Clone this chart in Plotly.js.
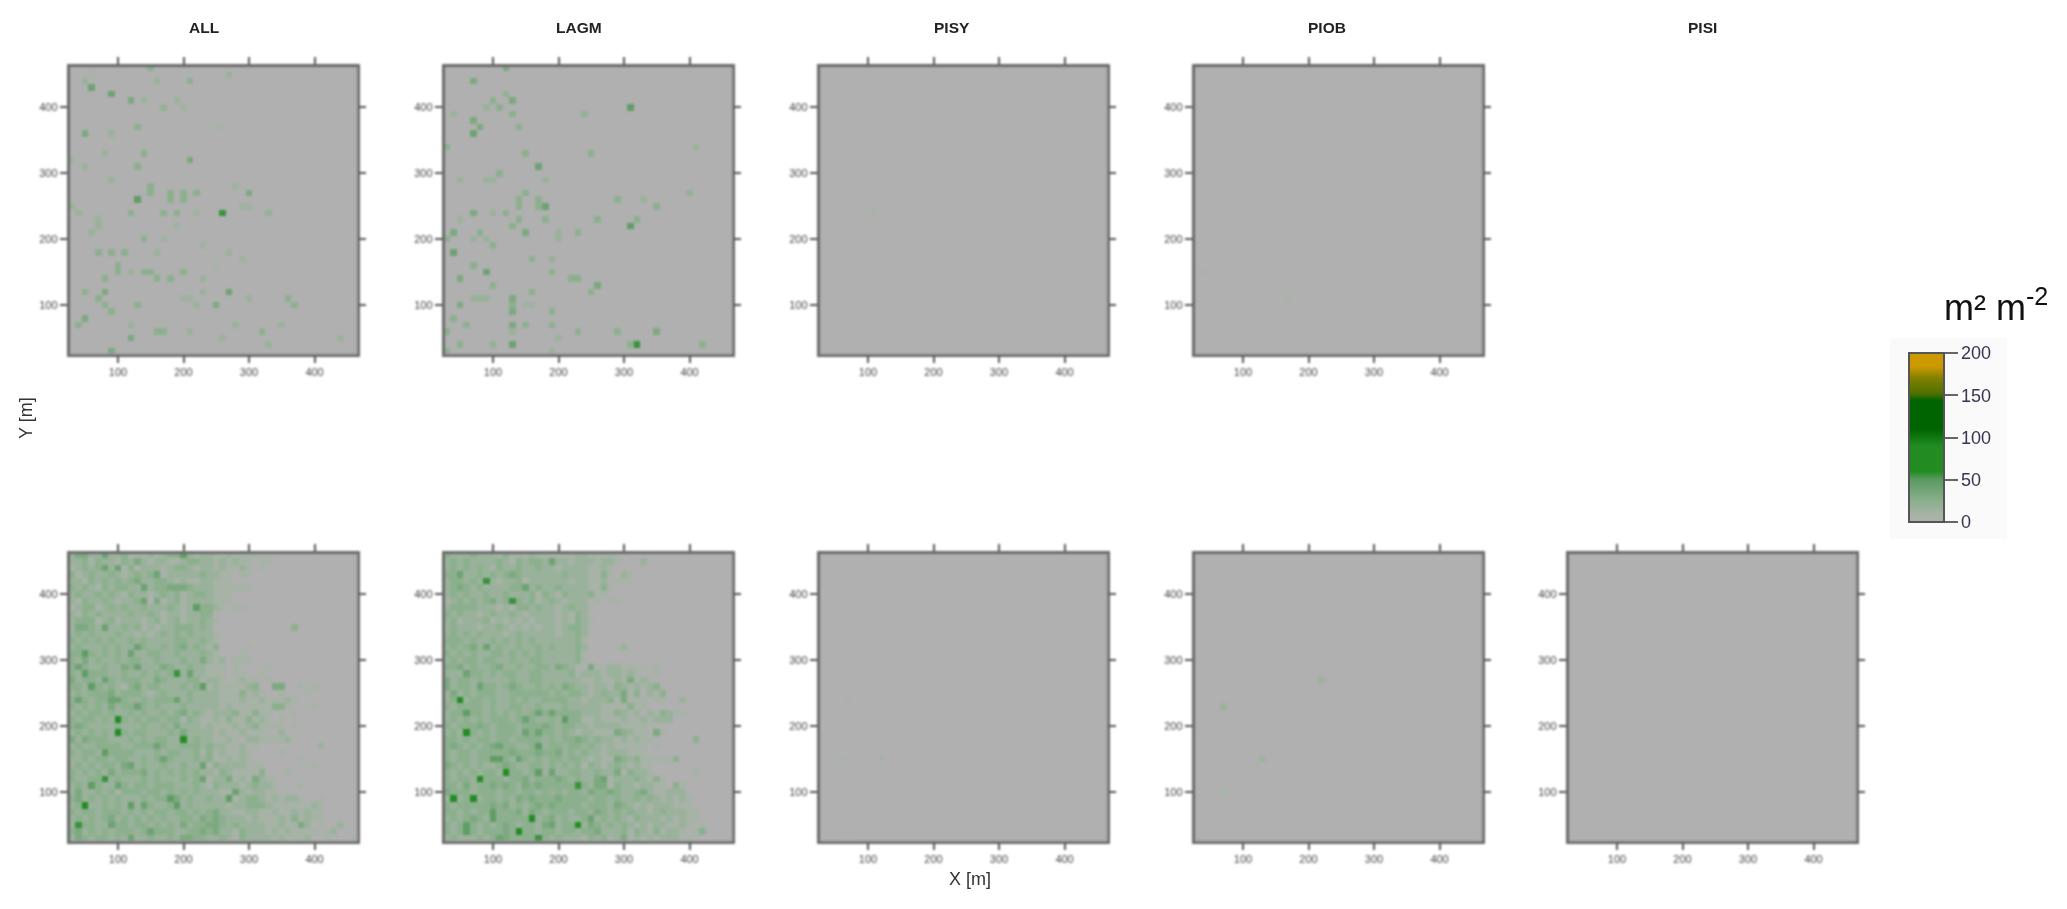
<!DOCTYPE html>
<html>
<head>
<meta charset="utf-8">
<script src="https://cdn.plot.ly/plotly-3.0.1.min.js"></script>
<style>
    html, body { margin: 0; padding: 0; background: #fff; }
    /* the reference is a soft, upscaled raster */
    .cartesianlayer { filter: blur(0.9px); }
    .annotation { filter: blur(0.5px); }
    .annotation[data-index="7"] { filter: none; }
</style>
</head>
<body>
<div id="chart" style="width:2067px;height:909px;"></div>
<script>
// grid cell centres
var cellX = [30,40,50,60,70,80,90,100,110,120,130,140,150,160,170,180,190,200,210,220,230,240,250,260,270,280,290,300,310,320,330,340,350,360,370,380,390,400,410,420,430,440,450,460];
var cellY = [460,450,440,430,420,410,400,390,380,370,360,350,340,330,320,310,300,290,280,270,260,250,240,230,220,210,200,190,180,170,160,150,140,130,120,110,100,90,80,70,60,50,40,30];

var panelTitles = ['ALL', 'LAGM', 'PISY', 'PIOB', 'PISI'];
var tickValues = [100, 200, 300, 400];
var barTicks = [0, 50, 100, 150, 200];

// dense panels (Y 460 down to 30), one digit = 8 m2/m2
var allBottomRows = [
    '2442252231 1121233621 2211211110 1000000000 0000',
    '2231322132 4212211233 2212121101 1000000000 0000',
    '1232352513 1222123321 2212112101 0000000000 0000',
    '3123223212 3235122222 3221101100 0000000000 0000',
    '2213232323 4223321211 2211100000 0000000000 0000',
    '3232132332 2523344432 2211111100 0000000000 0000',
    '2322323213 2212323123 3211100000 0000000000 0000',
    '2132232122 3504123122 2211100000 0000000000 0000',
    '1233123232 2322232126 3321011000 0000000000 0000',
    '2132322223 2232122122 3300000000 0000000000 0000',
    '2333123122 2123123122 3210000000 0000000000 0000',
    '2443252232 3121223332 3200000000 0000300000 0000',
    '2323222322 1212323232 2210000000 0000000000 0000',
    '3232323223 2322223322 3210000000 0000000000 0000',
    '2322232322 5322323423 2130000100 0000000000 0000',
    '3363232325 2233223222 3210001000 0000000000 0000',
    '3242322323 3223222322 4212011100 0000000000 0000',
    '3532232243 5222432232 2111010000 1000000000 0000',
    '3263332232 2323237252 2111011001 0000000000 0000',
    '4233253233 3224322233 1221012110 1000000000 0000',
    '3326323213 4233222323 6121111230 0440010100 0000',
    '2323334233 3212322232 2221113121 0010001000 0000',
    '3532335532 2323335232 2221112112 1112100000 0000',
    '3232324233 5323222322 2221211111 1331000100 0000',
    '2323323223 2322323423 2122231131 1000100000 0000',
    '3233232932 3233233132 1121311312 1010000000 0000',
    '3432222322 2322324222 1211121231 1110100000 0000',
    '2323232832 3322232422 2212112111 0020000000 0000',
    '4243332223 2323322923 2211210221 1112000000 0000',
    '2322333322 3335322333 2322112010 0000000020 0000',
    '3233263333 2223233223 1312112100 0010000000 0000',
    '2232332332 2323532223 2311212100 0000010000 0000',
    '2323233245 2322322322 5132222111 0000000100 0000',
    '3232324233 3423232323 2213211113 0001000000 0000',
    '3223372322 2323222323 5122412142 1100000000 0000',
    '2326322532 3323332223 2132221232 2100010000 0000',
    '2422323133 3233232323 2221152122 1101000000 0000',
    '3423232322 2323364232 2322612332 1212210010 0000',
    '2382232326 2532236232 2222122333 2111111210 0000',
    '3233233323 2323323323 2342211221 1211212110 0000',
    '2323234232 3232322332 4343222121 1121312110 0000',
    '2733225332 3323232423 3443232222 1121142010 0200',
    '3423232333 2353332233 4342213222 1212111101 2000',
    '2432332325 2232232443 3223213222 2121112001 0001'
];

var lagmBottomRows = [
    '3222322213 1112111111 2211111000 0000000000 0000',
    '2323222232 1323325221 2221221000 2000000000 0000',
    '2323232132 2322322122 2211210000 0000000000 0000',
    '3352232323 4322222232 2211310210 0000000000 0000',
    '2332327212 2312222221 2211201100 0000000000 0000',
    '2343232222 3352322322 2211310000 0000000000 0000',
    '2323223223 2223132132 2231100000 0000000000 0000',
    '1232323423 7323123212 2201011000 0000000000 0000',
    '2333322212 1332322123 2210000000 0000000000 0000',
    '3232212322 3212222121 3200000000 0000000000 0000',
    '2312223121 2121222121 3210000000 0000000000 0000',
    '2322212232 1212122123 3200000000 0000000000 0000',
    '2323232221 2322222122 3200000000 0000000000 0000',
    '3332322323 2323222222 3100000000 0000000000 0000',
    '2323425232 2322323222 3200001200 0000000000 0000',
    '3232322332 3232322222 3100000000 0000000000 0000',
    '2323323322 3223322222 3100000000 0000000000 0000',
    '3342322342 2322332432 1041122111 1010000000 0000',
    '2225332323 3223322223 1222122121 0010000000 0000',
    '4233232222 3223322222 2112112141 2100000000 0000',
    '4233253323 4322323243 2212213212 1230000000 0000',
    '2423233322 3333332323 3212322413 0213000000 0000',
    '2382332322 3232233332 2122231411 1011002000 0000',
    '3233332322 3322322232 2222111131 1000000000 0000',
    '2336332323 2323535333 3222113212 0213211000 0000',
    '2323232333 2353223263 3112111211 2122200000 0000',
    '3233343233 3233343233 2212222111 1100000000 0000',
    '2328323233 3253533232 1221114321 1041000000 0000',
    '3323233233 2333323233 4323221212 1100000030 0000',
    '3432323453 3223623323 3232121111 1010000000 0000',
    '3233233333 4333433423 2322122211 1000000000 0000',
    '3233233663 2532323323 3212114323 1111130000 0000',
    '4323232234 3223323232 3132123212 1100000000 0000',
    '3232323328 3323625223 3223224132 2100000010 0000',
    '3233283332 3342333432 3224512223 2131000000 0000',
    '3324233434 3243433333 7324413221 2211031000 0000',
    '4333233323 3233232323 3243343223 4211222000 0000',
    '2923823323 2434333433 3323323223 2321212100 0000',
    '3233333434 2323434333 3233324321 2122211100 0000',
    '3323233633 3424323332 3324323232 2123222110 0000',
    '2323432633 3338234232 2352323213 2221212110 0000',
    '3236323234 3233245233 8243232321 2122112101 0000',
    '3236323334 3933233233 2334222313 2131221013 0000',
    '2322232354 3333732322 2132312412 1212221100 0000'
];

// sparse panels: [x, y, value]
var allTopCells = [
    [60,430,40],[90,420,40],[120,410,32],[130,260,48],[260,240,56],[270,120,40],[300,270,32],[210,320,32],[210,440,24],
    [50,360,32],[130,370,24],[140,330,24],[170,400,20],[150,280,24],[150,270,24],[180,270,24],[180,260,24],[200,270,24],
    [200,260,24],[220,270,24],[170,240,24],[190,240,24],[120,240,24],[140,200,24],[70,230,16],[70,220,16],[60,210,16],
    [70,180,24],[90,180,24],[110,180,24],[160,180,16],[100,160,24],[100,150,24],[120,150,16],[140,150,24],[150,150,24],
    [200,150,24],[160,140,24],[180,140,24],[80,140,24],[50,120,24],[80,120,32],[70,110,24],[80,100,24],[90,90,24],
    [130,100,24],[220,100,16],[250,100,32],[360,110,24],[370,100,24],[300,110,16],[230,120,16],[50,80,32],[40,70,24],
    [120,70,16],[160,60,24],[170,60,24],[210,60,16],[120,50,32],[90,30,32],[320,60,24],[280,70,16],[350,70,16],
    [440,50,16],[330,40,16],[260,50,16],[150,460,24],[270,450,16],[50,440,16],[60,450,8],[160,440,16],[140,410,16],
    [190,410,16],[200,400,12],[90,360,16],[80,330,16],[130,310,24],[50,310,16],[90,290,16],[30,320,16],[30,250,16],
    [40,240,16],[220,240,12],[280,280,12],[330,240,20],[290,250,12],[300,250,12],[270,180,16],[290,170,12],[200,110,12],
    [210,110,12],[230,140,16],[250,160,8],[190,220,12],[250,370,8],[260,370,8],[170,200,12],[230,190,12]
];

var lagmTopCells = [
    [120,460,32],[70,440,32],[130,410,32],[310,400,48],[110,400,24],[100,410,24],[90,400,16],[120,420,20],[140,370,24],
    [70,380,32],[80,370,32],[70,360,40],[130,390,24],[40,390,16],[240,390,20],[30,340,24],[410,340,16],[150,330,24],
    [250,330,24],[170,310,40],[110,300,24],[50,290,16],[90,290,16],[100,290,16],[180,290,16],[150,270,24],[400,270,20],
    [140,260,24],[140,250,24],[170,260,24],[170,250,24],[180,250,40],[290,260,24],[330,260,16],[350,250,24],[70,240,32],
    [120,240,24],[100,240,16],[50,230,16],[140,230,24],[180,230,24],[260,230,24],[320,230,24],[310,220,48],[130,220,24],
    [40,210,32],[80,210,24],[150,210,32],[230,210,24],[200,210,16],[200,200,16],[30,200,24],[70,200,16],[90,200,16],
    [100,190,24],[40,180,40],[160,170,24],[190,170,20],[90,150,40],[70,160,24],[190,150,24],[50,140,32],[220,140,24],
    [230,140,24],[100,130,24],[260,130,32],[250,120,24],[160,120,24],[70,110,16],[80,110,16],[90,110,16],[130,110,32],
    [130,100,24],[130,90,32],[50,100,32],[190,90,24],[150,100,12],[160,100,12],[40,80,24],[60,70,24],[130,70,32],
    [150,70,24],[190,70,24],[30,60,24],[130,60,16],[230,60,24],[290,60,24],[350,60,32],[50,40,24],[100,40,20],[130,40,40],
    [320,40,56],[310,40,24],[420,40,24],[30,30,24],[190,30,16],[200,50,16]
];

var pisyTopCells = [[110,240,8],[160,30,2]];
var piobTopCells = [[40,150,7],[170,110,6],[140,70,3],[60,60,3],[80,30,3]];
var pisyBottomCells = [[70,240,6],[60,210,3],[60,150,6],[80,160,6],[120,150,9],[150,90,2],[70,30,4]];
var piobBottomCells = [[70,230,14],[220,270,14],[130,150,14],[120,140,5],[70,100,8],[160,100,5],[230,50,8],[140,220,5],[180,240,3],[100,170,2]];
var pisiBottomCells = [];

var colorStops = [
    [0, '#b0b0b0'],
    [0.04, '#a7b3a7'],
    [0.12, '#8cb08e'],
    [0.25, '#5c9a62'],
    [0.3, '#228b22'],
    [0.45, '#228b22'],
    [0.55, '#006400'],
    [0.72, '#006400'],
    [0.76, '#4f7000'],
    [0.85, '#808000'],
    [0.92, '#cc9900'],
    [1, '#cc9900']
];

var W = 2067, H = 909;
var panelLeft = [68, 443, 818, 1193, 1567];
var panelTop = [65, 552];
var panelSize = 290;
var frameInset = 1.5;
var titleCenter = [204, 579, 952, 1327, 1702];
var fontName = '"Liberation Sans", Arial, sans-serif';

function rowsToGrid(rows) {
    return rows.map(function(r) {
        return r.replace(/ /g, '').split('').map(function(d) { return Number(d) * 8; });
    });
}

function cellsToGrid(cells) {
    var grid = cellY.map(function() { return cellX.map(function() { return 0; }); });
    cells.forEach(function(c) {
        grid[cellY.indexOf(c[1])][cellX.indexOf(c[0])] = c[2];
    });
    return grid;
}

// col, row, z
var panels = [
    [0, 0, cellsToGrid(allTopCells)],
    [1, 0, cellsToGrid(lagmTopCells)],
    [2, 0, cellsToGrid(pisyTopCells)],
    [3, 0, cellsToGrid(piobTopCells)],
    [0, 1, rowsToGrid(allBottomRows)],
    [1, 1, rowsToGrid(lagmBottomRows)],
    [2, 1, cellsToGrid(pisyBottomCells)],
    [3, 1, cellsToGrid(piobBottomCells)],
    [4, 1, cellsToGrid(pisiBottomCells)]
];

var data = [];
var layout = {
    width: W,
    height: H,
    margin: {l: 0, r: 0, t: 0, b: 0},
    paper_bgcolor: '#fff',
    plot_bgcolor: '#b0b0b0',
    showlegend: false,
    font: {family: fontName, color: '#444'},
    shapes: [{
        type: 'rect', xref: 'paper', yref: 'paper', layer: 'below',
        x0: 1890 / W, x1: 2007 / W, y0: 1 - 539 / H, y1: 1 - 338 / H,
        fillcolor: '#fafafa', line: {width: 0}
    }],
    annotations: []
};

panels.forEach(function(p, i) {
    var n = i + 1;
    var left = panelLeft[p[0]] + frameInset;
    var top = panelTop[p[1]] + frameInset;
    var size = panelSize - 2 * frameInset;
    data.push({
        type: 'heatmap',
        x: cellX,
        y: cellY,
        z: p[2],
        xaxis: 'x' + n,
        yaxis: 'y' + n,
        zmin: 0,
        zmax: 200,
        colorscale: colorStops,
        showscale: i === 0,
        colorbar: {
            x: 1909 / W, xanchor: 'left', xpad: 0,
            y: 1 - 522 / H, yanchor: 'bottom', ypad: 0,
            len: 169, lenmode: 'pixels',
            thickness: 35, thicknessmode: 'pixels',
            outlinewidth: 2, outlinecolor: '#555',
            ticks: 'outside', ticklen: 13, tickwidth: 2, tickcolor: '#666',
            tickmode: 'array', tickvals: barTicks, ticktext: barTicks.map(String),
            tickfont: {family: fontName, size: 18, color: '#3b3350'}
        }
    });
    var axisBase = {
        tickmode: 'array',
        tickvals: tickValues,
        ticks: 'outside',
        ticklen: 7,
        tickwidth: 1.5,
        tickcolor: '#555',
        showline: true,
        linewidth: 2.5,
        linecolor: '#6a6a6a',
        mirror: 'ticks',
        showgrid: false,
        zeroline: false,
        tickfont: {family: fontName, size: 11, color: '#444'}
    };
    layout['xaxis' + n] = Object.assign({}, axisBase, {
        domain: [left / W, (left + size) / W],
        range: [26, 464],
        anchor: 'y' + n
    });
    layout['yaxis' + n] = Object.assign({}, axisBase, {
        domain: [1 - (top + size) / H, 1 - top / H],
        range: [27, 462],
        anchor: 'x' + n
    });
});

function addText(text, px, py, size, extra) {
    layout.annotations.push(Object.assign({
        text: text, xref: 'paper', yref: 'paper', x: px / W, y: 1 - py / H,
        showarrow: false, xanchor: 'center', yanchor: 'middle',
        font: {family: fontName, size: size, color: '#333'}
    }, extra || {}));
}

panelTitles.forEach(function(t, i) {
    addText('<b>' + t + '</b>', titleCenter[i], 27, 15.5, {font: {family: fontName, size: 15.5, color: '#222'}});
});
addText('X [m]', 970, 879, 18);
addText('Y [m]', 26, 418, 18, {textangle: -90});
addText('m² m<sup>-2</sup>', 1942, 305, 36, {xanchor: 'left', font: {family: fontName, size: 36, color: '#111'}});

Plotly.newPlot('chart', data, layout, {displayModeBar: false});
</script>
</body>
</html>
